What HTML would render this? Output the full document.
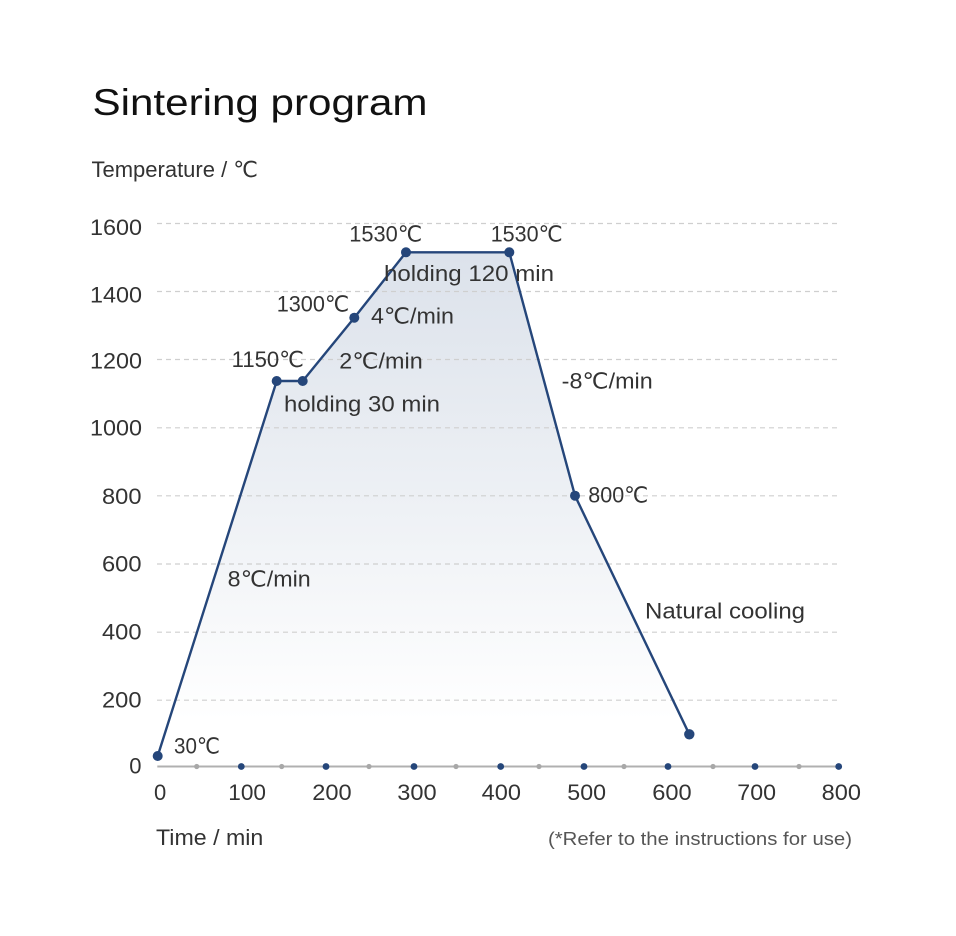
<!DOCTYPE html>
<html>
<head>
<meta charset="utf-8">
<style>
  html,body{margin:0;padding:0;background:#fff;}
  svg{display:block;}
  text{font-family:"Liberation Sans","DejaVu Sans",sans-serif;fill:#333;}
</style>
</head>
<body>
<svg width="956" height="936" viewBox="0 0 956 936" xmlns="http://www.w3.org/2000/svg">
  <defs>
    <linearGradient id="fillg" x1="0" y1="252" x2="0" y2="720" gradientUnits="userSpaceOnUse">
      <stop offset="0" stop-color="#dce2eb"/>
      <stop offset="0.55" stop-color="#eef1f5"/>
      <stop offset="1" stop-color="#ffffff"/>
    </linearGradient>
  </defs>
  <rect width="956" height="936" fill="#fff"/>

  <!-- title -->
  <text x="92.5" y="115" font-size="37" style="fill:#111" textLength="335" lengthAdjust="spacingAndGlyphs">Sintering program</text>
  <text x="91.5" y="177" font-size="22" textLength="166.5" lengthAdjust="spacingAndGlyphs">Temperature / ℃</text>

  <!-- fill area -->
  <polygon points="157.7,756 276.7,381 302.7,381 354.3,317.7 406,252.3 509.3,252.3 575,495.7 689.3,734.3 689.3,766.5 157.7,766.5" fill="url(#fillg)"/>

  <!-- gridlines -->
  <g stroke="#cfcfcf" stroke-width="1.2" stroke-dasharray="5,4">
    <line x1="157" y1="223.5" x2="838" y2="223.5"/>
    <line x1="157" y1="291.5" x2="838" y2="291.5"/>
    <line x1="157" y1="359.5" x2="838" y2="359.5"/>
    <line x1="157" y1="427.8" x2="838" y2="427.8"/>
    <line x1="157" y1="495.8" x2="838" y2="495.8"/>
    <line x1="157" y1="564" x2="838" y2="564"/>
    <line x1="157" y1="632.2" x2="838" y2="632.2"/>
    <line x1="157" y1="700.2" x2="838" y2="700.2"/>
  </g>

  <!-- x axis -->
  <line x1="157.3" y1="766.5" x2="839" y2="766.5" stroke="#b0b0b0" stroke-width="2"/>
  <g fill="#a8a8a8">
    <circle cx="196.7" cy="766.5" r="2.6"/>
    <circle cx="281.7" cy="766.5" r="2.6"/>
    <circle cx="369" cy="766.5" r="2.6"/>
    <circle cx="456" cy="766.5" r="2.6"/>
    <circle cx="539" cy="766.5" r="2.6"/>
    <circle cx="624" cy="766.5" r="2.6"/>
    <circle cx="713" cy="766.5" r="2.6"/>
    <circle cx="799" cy="766.5" r="2.6"/>
  </g>
  <g fill="#25467a">
    <circle cx="241.3" cy="766.5" r="3.4"/>
    <circle cx="326" cy="766.5" r="3.4"/>
    <circle cx="414" cy="766.5" r="3.4"/>
    <circle cx="500.7" cy="766.5" r="3.4"/>
    <circle cx="584" cy="766.5" r="3.4"/>
    <circle cx="668" cy="766.5" r="3.4"/>
    <circle cx="755" cy="766.5" r="3.4"/>
    <circle cx="838.7" cy="766.5" r="3.4"/>
  </g>

  <!-- y labels -->
  <g font-size="22" text-anchor="end">
    <text x="142" y="235" textLength="52" lengthAdjust="spacingAndGlyphs">1600</text>
    <text x="142" y="302.7" textLength="52" lengthAdjust="spacingAndGlyphs">1400</text>
    <text x="142" y="368.3" textLength="52" lengthAdjust="spacingAndGlyphs">1200</text>
    <text x="142" y="435.7" textLength="52" lengthAdjust="spacingAndGlyphs">1000</text>
    <text x="141.5" y="504" textLength="39.5" lengthAdjust="spacingAndGlyphs">800</text>
    <text x="141.5" y="571.7" textLength="39.5" lengthAdjust="spacingAndGlyphs">600</text>
    <text x="141.5" y="639.3" textLength="39.5" lengthAdjust="spacingAndGlyphs">400</text>
    <text x="141.5" y="707.7" textLength="39.5" lengthAdjust="spacingAndGlyphs">200</text>
    <text x="141.5" y="773.3">0</text>
  </g>

  <!-- x labels -->
  <g font-size="22">
    <text x="154" y="800">0</text>
    <text x="228.3" y="800" textLength="37.7" lengthAdjust="spacingAndGlyphs">100</text>
    <text x="312.3" y="800" textLength="39.4" lengthAdjust="spacingAndGlyphs">200</text>
    <text x="397.3" y="800" textLength="39.4" lengthAdjust="spacingAndGlyphs">300</text>
    <text x="481.7" y="800" textLength="39.3" lengthAdjust="spacingAndGlyphs">400</text>
    <text x="567.3" y="800" textLength="38.7" lengthAdjust="spacingAndGlyphs">500</text>
    <text x="652.3" y="800" textLength="39.4" lengthAdjust="spacingAndGlyphs">600</text>
    <text x="737.3" y="800" textLength="38.7" lengthAdjust="spacingAndGlyphs">700</text>
    <text x="821.7" y="800" textLength="39.3" lengthAdjust="spacingAndGlyphs">800</text>
  </g>

  <text x="156" y="845" font-size="22" textLength="107.3" lengthAdjust="spacingAndGlyphs">Time / min</text>
  <text x="548" y="845" font-size="18.5" style="fill:#555" textLength="304" lengthAdjust="spacingAndGlyphs">(*Refer to the instructions for use)</text>

  <!-- series line -->
  <polyline points="157.7,756 276.7,381 302.7,381 354.3,317.7 406,252.3 509.3,252.3 575,495.7 689.3,734.3" fill="none" stroke="#25467a" stroke-width="2.4" stroke-linejoin="round"/>
  <g fill="#25467a">
    <circle cx="157.7" cy="756" r="5"/>
    <circle cx="276.7" cy="381" r="5"/>
    <circle cx="302.7" cy="381" r="5"/>
    <circle cx="354.3" cy="317.7" r="5"/>
    <circle cx="406" cy="252.3" r="5"/>
    <circle cx="509.3" cy="252.3" r="5"/>
    <circle cx="575" cy="495.7" r="5"/>
    <circle cx="689.3" cy="734.3" r="5.2"/>
  </g>

  <!-- annotations -->
  <g font-size="22">
    <text x="174" y="753.3" textLength="46" lengthAdjust="spacingAndGlyphs">30℃</text>
    <text x="227.7" y="586.7" textLength="83" lengthAdjust="spacingAndGlyphs">8℃/min</text>
    <text x="231.7" y="367" textLength="72.3" lengthAdjust="spacingAndGlyphs">1150℃</text>
    <text x="284" y="411.7" textLength="156" lengthAdjust="spacingAndGlyphs">holding 30 min</text>
    <text x="339.3" y="368.3" textLength="83.4" lengthAdjust="spacingAndGlyphs">2℃/min</text>
    <text x="276.7" y="311.7" textLength="72.6" lengthAdjust="spacingAndGlyphs">1300℃</text>
    <text x="371" y="323.3" textLength="83" lengthAdjust="spacingAndGlyphs">4℃/min</text>
    <text x="349.3" y="241.7" textLength="73" lengthAdjust="spacingAndGlyphs">1530℃</text>
    <text x="490.7" y="241.7" textLength="72" lengthAdjust="spacingAndGlyphs">1530℃</text>
    <text x="384" y="281" textLength="170" lengthAdjust="spacingAndGlyphs">holding 120 min</text>
    <text x="561.7" y="388.3" textLength="91" lengthAdjust="spacingAndGlyphs">-8℃/min</text>
    <text x="588.3" y="502.7" textLength="60" lengthAdjust="spacingAndGlyphs">800℃</text>
    <text x="645" y="618.3" textLength="160" lengthAdjust="spacingAndGlyphs">Natural cooling</text>
  </g>
</svg>
</body>
</html>
